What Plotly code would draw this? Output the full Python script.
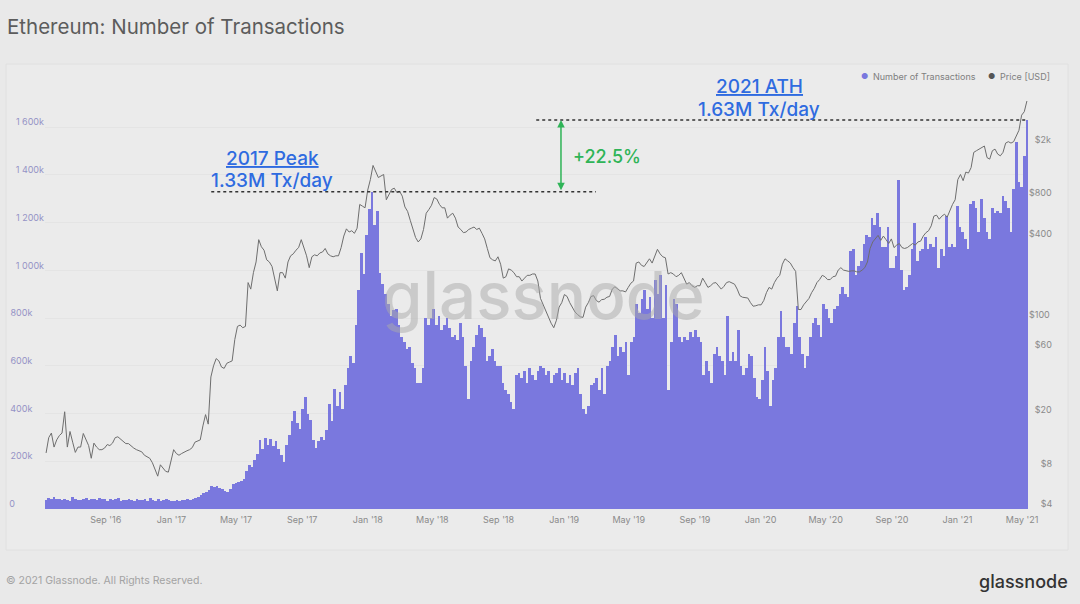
import pandas as pd
import plotly.graph_objects as go

# Number of transactions, in thousands, evenly spaced from 2016-05-13 to 2021-05-10
tx_k = [
    38, 46, 42, 50, 40, 44, 36, 43, 39, 34, 52, 44,
    38, 36, 42, 48, 39, 41, 44, 38, 46, 43, 40, 35,
    40, 37, 42, 45, 34, 39, 36, 44, 38, 33, 42, 37,
    36, 41, 33, 47, 38, 35, 40, 32, 37, 41, 36, 33,
    34, 37, 35, 39, 36, 41, 38, 42, 46, 52, 58, 66,
    70, 78, 98, 92, 95, 90, 84, 74, 70, 82, 104, 108,
    112, 118, 124, 160, 186, 176, 205, 230, 288, 250, 298, 270,
    292, 262, 285, 250, 225, 195, 270, 310, 370, 410, 360, 335,
    420, 470, 400, 375, 290, 255, 285, 300, 290, 330, 440, 370,
    505, 430, 490, 420, 520, 590, 640, 610, 770, 920,
    1074, 985, 1150, 1256, 1330, 1190, 1250, 990, 945, 900, 860, 810,
    835, 840, 770, 720, 700, 670, 680, 610, 590, 530, 530, 590,
    800, 770, 800, 840, 770, 810, 750, 770, 800, 760, 720, 730,
    710, 780, 720, 600, 460, 620, 680, 730, 770, 760, 720, 620,
    640, 670, 620, 600, 600, 530, 500, 480, 450, 420, 560, 570,
    550, 580, 530, 590, 560, 540, 580, 600, 590, 560, 580, 530,
    560, 570, 590, 540, 570, 530, 560, 520, 570, 590, 480, 420,
    400, 430, 520, 530, 550, 500, 590, 480, 600, 620, 680, 730,
    640, 680, 660, 700, 560, 700, 720, 860, 820, 880, 920, 840,
    890, 800, 960, 900, 980, 800, 940, 500, 700, 880, 860, 720,
    700, 720, 710, 740, 720, 750,
    720, 700, 560, 620, 580, 530, 650, 680, 640, 620, 560, 810,
    620, 660, 620, 750, 600, 560, 590, 650, 640, 550, 470, 460,
    540, 680, 580, 430, 540, 590, 720, 830, 720, 680, 680, 650,
    780, 850, 720, 650, 590, 640, 720, 780, 800, 770, 720, 860,
    840, 800, 780, 840, 850, 900, 930, 900, 890, 1080, 1090, 980,
    1020, 1040, 1110, 1150, 1140, 1220, 1190, 1240, 1180, 1100, 1100, 1180,
    1010, 1010, 1060, 1380, 1000, 920, 930, 980, 1090, 1200, 1040, 1080,
    1090, 1140, 1090, 1110, 1100, 1140, 1010, 1090, 1060, 1230, 1100, 1110,
    1100, 1270, 1180, 1160, 1130, 1090, 1280, 1290, 1260, 1160, 1300, 1220,
    1160, 1130, 1260, 1240, 1250, 1240, 1310, 1290, 1260, 1160, 1340, 1540,
    1370, 1350, 1480, 1630,
]

# Price in USD, same span
price_usd = [
    10.4, 13.5, 14.6, 11.5, 13, 14, 14.6, 21, 11.5, 15, 12.5, 10.5,
    11.5, 11.5, 14.5, 13, 11.8, 9.5, 12.3, 11.5, 11, 11, 11.3, 12,
    11.8, 12.3, 13.5, 13.7, 13.2, 12.8, 12.2, 12.2, 11.7, 11.3, 11, 10.8,
    10.6, 10, 9.7, 9.5, 8.8, 7.8, 7, 8.5, 8, 7.6, 7.5, 9,
    11, 10.3, 10, 10.3, 10.6, 10.8, 11, 11.4, 12.5, 12.8, 13, 16.5,
    20, 17, 38, 46, 52, 50, 45, 44, 48, 49, 50, 72,
    90, 92, 88, 90, 190, 170, 225, 270, 395, 350, 330, 280,
    270, 250, 205, 165, 225, 225, 205, 270, 300, 310, 330, 345,
    395, 340, 300, 245, 295, 305, 300, 315, 320, 340, 310, 300,
    295, 300, 300, 345, 420, 475, 450, 460, 440, 480, 720,
    700, 680, 920, 1100, 1400, 1250, 1140, 1170, 1200, 780, 860, 930,
    950, 880, 900, 830, 690, 640, 550, 480, 410, 380, 400, 470,
    620, 660, 710, 810, 790, 720, 680, 680, 570, 600, 620, 570,
    490, 470, 445, 450, 470, 480, 490, 470, 480, 440, 400, 340,
    290, 280, 275, 295, 260, 205, 210, 240, 235, 225, 210, 210,
    195, 205, 215, 215, 220, 220, 195, 145, 130, 120, 105, 95,
    88, 100, 125, 135, 155, 150, 135, 125, 115, 110, 106, 105,
    125, 135, 150, 152, 140, 136, 142, 143, 148, 150, 170, 177,
    172, 165, 165, 162, 175, 188, 195, 265, 270, 255, 250, 265,
    285, 265, 300, 335, 310, 295, 290, 220, 225, 220, 210, 215,
    225, 205, 185, 190, 180, 175, 180,
    180, 205, 190, 175, 180, 188, 190, 180, 170, 178, 190, 193,
    190, 185, 170, 152, 148, 147, 146, 135, 127, 128, 130, 130,
    140, 160, 175, 170, 190, 205, 215, 260, 285, 275, 265, 245,
    230, 120, 120, 130, 138, 145, 160, 172, 190, 200, 215, 210,
    200, 200, 210, 212, 235, 245, 235, 232, 230, 232, 232, 228,
    228, 235, 245, 270, 340, 380, 400, 425, 390, 420, 395, 370,
    400, 345, 360, 370, 345, 340, 345, 355, 370, 360, 380, 385,
    420, 445, 460, 500, 590, 600, 560, 590, 610, 580, 650, 720,
    780, 1100, 1200, 1080, 1250, 1230, 1350, 1750, 1800, 1850, 1900, 1950,
    1600, 1560, 1800, 1850, 1700, 1650, 1750, 2050, 2100, 2050, 2100, 2300,
    2550, 3300, 3500, 4200,
]

left_ticks = [0, 200000, 400000, 600000, 800000, 1000000, 1200000, 1400000, 1600000]
left_labels = ["0", "200k", "400k", "600k", "800k", "1 000k", "1 200k", "1 400k", "1 600k"]
right_ticks = [4, 8, 20, 60, 100, 400, 800, 2000]
right_labels = ["$4", "$8", "$20", "$60", "$100", "$400", "$800", "$2k"]

PEAK_2017 = 1330000
ATH_2021 = 1630000

FONT = "Inter, Roboto, sans-serif"
BG = "#e9e9e9"
PANEL = "#ebebeb"
PURPLE = "#7a78de"
GREY_LINE = "#6e6e6e"
BLUE = "#2f6be0"
GREEN = "#2fb457"
W, H = 1080, 604
L, R, T, B = 45, 52, 70, 95


def px(x):
    return (x - L) / (W - L - R)


def py(y):
    return 1 - (y - T) / (H - T - B)


def pad_left(text, width):
    # the labels are aligned the other way round than plotly does it
    return "\u2007" * (width - len(text)) + text


def pad_right(text, width):
    return text + "\u2007" * (width - len(text))


tx_dates = pd.date_range("2016-05-13", "2021-05-10", periods=len(tx_k))
price_dates = pd.date_range("2016-05-13", "2021-05-10", periods=len(price_usd))
bar_width = (tx_dates[1] - tx_dates[0]).total_seconds() * 1000

fig = go.Figure()
fig.add_trace(
    go.Bar(
        x=tx_dates,
        y=[v * 1000 for v in tx_k],
        width=bar_width,
        marker=dict(color=PURPLE, line=dict(width=0)),
        showlegend=False,
    )
)
fig.add_trace(
    go.Scatter(
        x=price_dates,
        y=price_usd,
        yaxis="y2",
        mode="lines",
        line=dict(color=GREY_LINE, width=1),
        showlegend=False,
    )
)

fig.update_layout(
    width=W,
    height=H,
    margin=dict(l=L, r=R, t=T, b=B),
    paper_bgcolor=BG,
    plot_bgcolor=PANEL,
    bargap=0,
    showlegend=False,
    font=dict(family=FONT, color="#8a8a8a", size=9),
    title=dict(
        text="Ethereum: Number of Transactions",
        x=7 / W, xref="container", xanchor="left",
        y=1 - 27 / H, yref="container", yanchor="middle",
        font=dict(family=FONT, size=20.5, color="#5c5c5c"),
    ),
    xaxis=dict(
        type="date",
        range=["2016-05-11", "2021-05-12"],
        tick0="2016-09-01",
        dtick="M4",
        tickformat="%b '%y",
        showgrid=False,
        zeroline=False,
        ticks="",
        automargin=False,
        ticklabelstandoff=4,
    ),
    yaxis=dict(
        range=[0, 1840000],
        tickvals=left_ticks,
        ticktext=[pad_right(t, 6) for t in left_labels],
        tickfont=dict(color="#9593c6", size=9),
        ticklabelshift=-5,
        gridcolor="#e4e4e4",
        gridwidth=1,
        zeroline=False,
        ticks="",
        automargin=False,
    ),
    yaxis2=dict(
        type="log",
        overlaying="y",
        side="right",
        range=[0.60206, 3.853],
        tickvals=right_ticks,
        ticktext=[pad_left(t, 4) for t in right_labels],
        tickfont=dict(color="#8a8a8a", size=9),
        ticklabelshift=-5,
        showgrid=False,
        zeroline=False,
        ticks="",
        automargin=False,
    ),
)

# panel behind the plot
fig.add_shape(
    type="rect", xref="paper", yref="paper", layer="below",
    x0=px(6), x1=px(1068), y0=py(550), y1=py(64),
    fillcolor=PANEL, line=dict(color="#e0e0e0", width=1),
)

# the two levels and the arrow between them
fig.add_shape(
    type="line", x0="2017-03-16", x1="2019-03-01", y0=PEAK_2017, y1=PEAK_2017,
    line=dict(color="#333333", width=1.5, dash="3px,3px"),
)
fig.add_shape(
    type="line", x0="2018-11-10", x1="2021-05-10", y0=ATH_2021, y1=ATH_2021,
    line=dict(color="#333333", width=1.5, dash="3px,3px"),
)
fig.add_annotation(
    x="2018-12-26", y=ATH_2021, ax="2018-12-26", ay=PEAK_2017,
    xref="x", yref="y", axref="x", ayref="y",
    text="", showarrow=True, arrowside="end+start",
    arrowhead=2, arrowsize=1, arrowwidth=1.5, arrowcolor=GREEN,
)

notes = [
    ("<u>2017 Peak</u>", 272, 158, 19, BLUE, "center", 500),
    ("1.33M Tx/day", 272, 180, 19, BLUE, "center", 500),
    ("<u>2021 ATH</u>", 759, 87, 19, BLUE, "center", 500),
    ("1.63M Tx/day", 759, 109, 19, BLUE, "center", 500),
    ("+22.5%", 571, 156, 18, GREEN, "left", 500),
    ("glassnode", 543, 295, 65.5, "rgba(170,170,170,0.5)", "center", 500),
    ("© 2021 Glassnode. All Rights Reserved.", 4, 580, 10.5, "#a3a3a3", "left", 400),
    ("glassnode", 1070, 581, 18, "#333333", "right", 500),
    # legend, the dots sit closer to the text than a plotly legend allows
    ("●", 864, 76, 8, PURPLE, "center", 400),
    ("Number of Transactions", 871, 76, 9, "#7f7f7f", "left", 400),
    ("●", 991, 76, 8, "#555555", "center", 400),
    ("Price [USD]", 998, 76, 9, "#7f7f7f", "left", 400),
]
for text, x, y, size, color, anchor, weight in notes:
    fig.add_annotation(
        text=text, xref="paper", yref="paper", x=px(x), y=py(y),
        xanchor=anchor, yanchor="middle", showarrow=False,
        font=dict(family=FONT, size=size, color=color, weight=weight),
    )

fig.write_html(
    "out.html",
    config=dict(displayModeBar=False),
    post_script="document.body.style.margin='0';",
)
